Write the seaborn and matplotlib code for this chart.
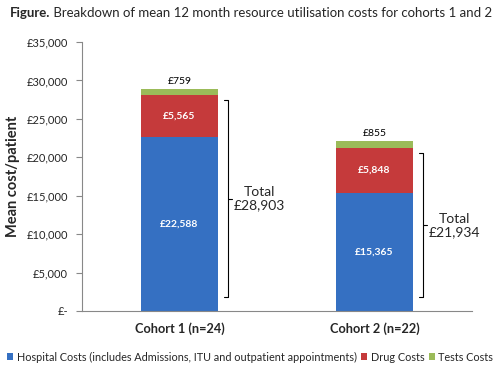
import numpy as np
import pandas as pd
import seaborn as sns
import matplotlib.pyplot as plt
from matplotlib.ticker import FuncFormatter
from matplotlib.patches import Patch

# data
cohorts = ["Cohort 1 (n=24)", "Cohort 2 (n=22)"]
hospital = [22588, 15365]
drug = [5565, 5848]
tests = [759, 855]
totals = [28903, 21934]

legend_labels = ["Hospital Costs (includes Admissions, ITU and outpatient appointments)",
                 "Drug Costs", "Tests Costs"]
colors = ["#3570c2", "#c53a3b", "#9bbb59"]

sns.set_style("white")
plt.rcParams["font.family"] = ["Lato", "DejaVu Sans"]

df = pd.DataFrame({"Cohort": cohorts, "Hospital": hospital, "Drug": drug, "Tests": tests})
df["HD"] = df["Hospital"] + df["Drug"]
df["All"] = df["HD"] + df["Tests"]

fig = plt.figure(figsize=(5, 3.72), dpi=100)
ax = fig.add_axes([0.164, 0.164, 0.78, 0.723])

# stacked bars drawn as overlaid cumulative bars, tallest first
for col, c in zip(["All", "HD", "Hospital"], colors[::-1]):
    sns.barplot(data=df, x="Cohort", y=col, color=c, width=0.39, ax=ax,
                edgecolor="none", saturation=1)

ax.set_xlim(-0.5, 1.5)
ax.set_ylim(0, 35000)
ax.set_yticks(np.arange(0, 35001, 5000))
ax.yaxis.set_major_formatter(FuncFormatter(lambda v, p: "£-" if v == 0 else f"£{v:,.0f}"))
ax.tick_params(axis="y", which="major", direction="out", length=4, color="#888888",
               labelsize=8, pad=6, left=True)
ax.set_xticks([-0.5, 0.5, 1.5], minor=True)
ax.tick_params(axis="x", which="minor", direction="out", length=4, color="#888888")
ax.tick_params(axis="x", which="major", length=0, labelsize=9.2, pad=8)
for lab in ax.get_xticklabels():
    lab.set_fontweight("bold")

for s in ["top", "right"]:
    ax.spines[s].set_visible(False)
for s in ["left", "bottom"]:
    ax.spines[s].set_color("#888888")
    ax.spines[s].set_linewidth(0.8)

ax.set_xlabel("")
ax.set_ylabel("Mean cost/patient", fontsize=10.5, fontweight="bold", labelpad=5)

# value labels
for i in range(len(cohorts)):
    ax.text(i, hospital[i] / 2, f"£{hospital[i]:,}", ha="center", va="center",
            color="white", fontweight="bold", fontsize=7.5)
    ax.text(i, hospital[i] + drug[i] / 2, f"£{drug[i]:,}", ha="center", va="center",
            color="white", fontweight="bold", fontsize=7.5)
    ax.text(i, df["All"][i] + 400, f"£{tests[i]:,}", ha="center", va="bottom",
            color="black", fontsize=7.5)

# brackets with totals
for i in range(len(cohorts)):
    xb = i + 0.25
    y0 = 1800
    y1 = df["HD"][i] - 700
    ym = (y0 + y1) / 2
    ax.plot([xb - 0.02, xb, xb, xb - 0.02], [y0, y0, y1, y1], color="black", lw=0.8)
    ax.plot([xb, xb + 0.02], [ym, ym], color="black", lw=0.8)
    ax.text(xb + 0.16, ym, f"Total\n£{totals[i]:,}", ha="center", va="center",
            fontsize=10, linespacing=1.1)

# title: bold lead-in followed by normal text
t1 = fig.text(0.02, 0.965, "Figure.", fontsize=9.5, fontweight="bold", va="center")
fig.canvas.draw()
bb = t1.get_window_extent().transformed(fig.transFigure.inverted())
fig.text(bb.x1, 0.965, " Breakdown of mean 12 month resource utilisation costs for cohorts 1 and 2",
         fontsize=9.5, va="center")

handles = [Patch(facecolor=c, edgecolor="none") for c in colors]
fig.legend(handles, legend_labels, loc="center", bbox_to_anchor=(0.5, 0.04), ncol=3,
           frameon=False, fontsize=7.8, handlelength=0.6, handleheight=0.6,
           handletextpad=0.3, columnspacing=0.4)

fig.savefig("out.png", dpi=100)
